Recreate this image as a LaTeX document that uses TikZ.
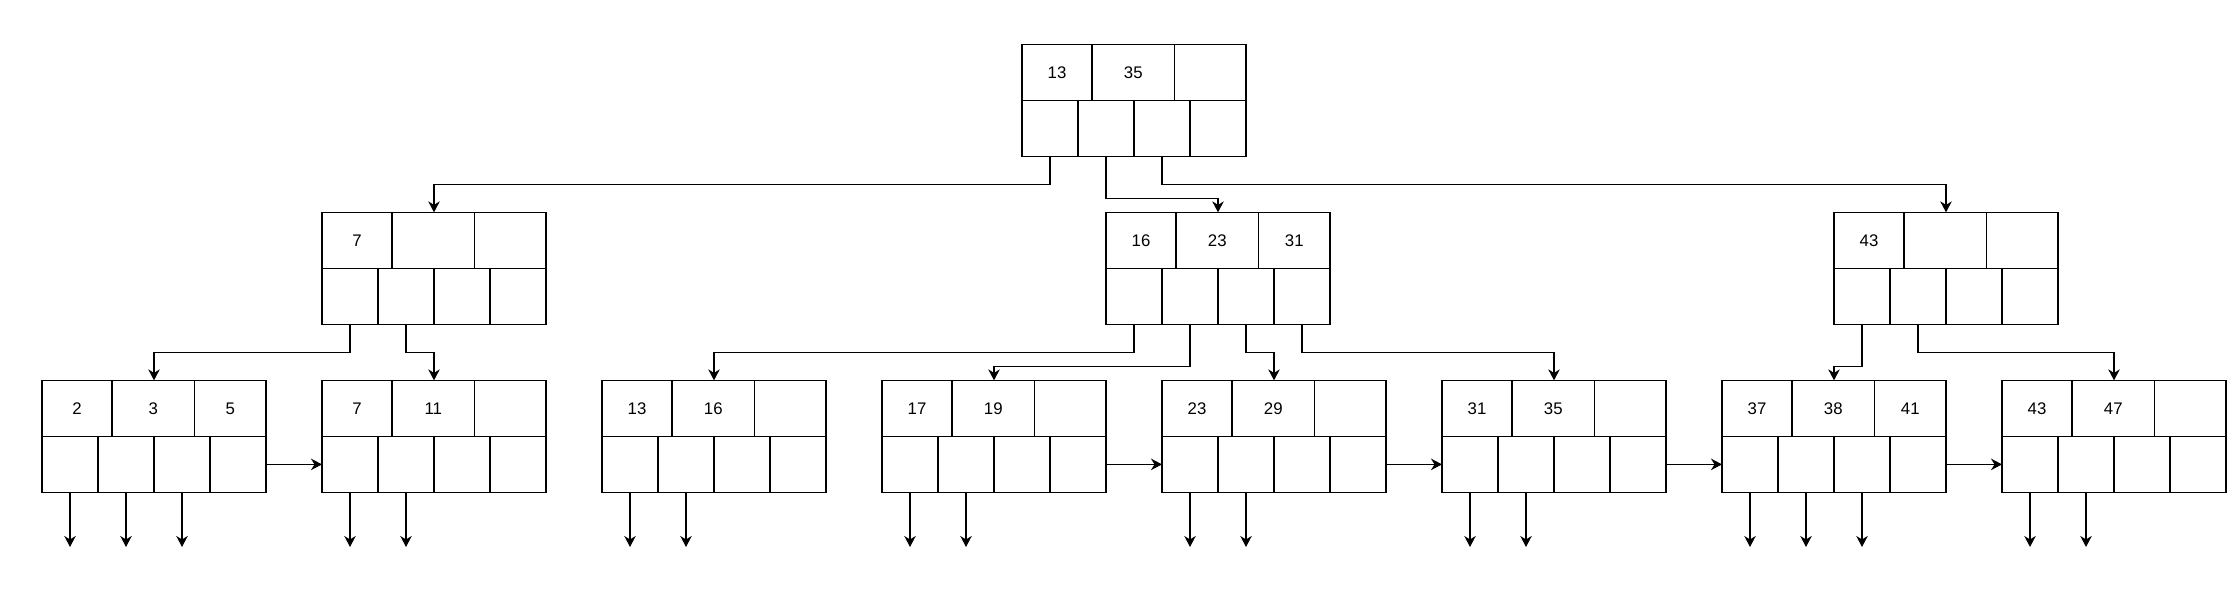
\documentclass[tikz,border=0pt]{standalone}
\usepackage{fontspec}
\setmainfont{Liberation Sans}
\usetikzlibrary{arrows.meta}
\tikzset{
  cell/.style={draw=black, line width=1.4pt, inner sep=0pt, outer sep=0pt,
    minimum height=56pt, anchor=north west, text=black,
    font=\fontsize{16.8}{20}\selectfont},
  arr/.style={draw=black, line width=1.4pt,
    -{Stealth[length=11pt,width=11.5pt,inset=3.5pt]}},
}
% #1 name, #2 x, #3 y (top-left, drawing units), #4-#6 keys
\newcommand\btnode[6]{%
  \node[cell, minimum width=70pt]   (#1-k1) at (#2,#3) {#4};
  \node[cell, minimum width=82.6pt] (#1-k2) at (#2+50,#3) {#5};
  \node[cell, minimum width=71.4pt] (#1-k3) at (#2+109,#3) {#6};
  \node[cell, minimum width=56pt] (#1-p1) at (#2,#3+40) {};
  \node[cell, minimum width=56pt] (#1-p2) at (#2+40,#3+40) {};
  \node[cell, minimum width=56pt] (#1-p3) at (#2+80,#3+40) {};
  \node[cell, minimum width=56pt] (#1-p4) at (#2+120,#3+40) {};
  \coordinate (#1) at (#2+80,#3);
}
\begin{document}
\begin{tikzpicture}[x=1.4pt, y=-1.4pt]
  \fill[white] (0,0) rectangle (1600,432.14);
  \useasboundingbox (0,0) rectangle (1600,432.14);

  \btnode{root}{730}{31.7}{13}{35}{}
  \btnode{la}{230}{151.7}{7}{}{}
  \btnode{lb}{790}{151.7}{16}{23}{31}
  \btnode{lc}{1310}{151.7}{43}{}{}

  \btnode{ma}{30}{271.7}{2}{3}{5}
  \btnode{mb}{230}{271.7}{7}{11}{}
  \btnode{mc}{430}{271.7}{13}{16}{}
  \btnode{md}{630}{271.7}{17}{19}{}
  \btnode{me}{830}{271.7}{23}{29}{}
  \btnode{mf}{1030}{271.7}{31}{35}{}
  \btnode{mg}{1230}{271.7}{37}{38}{41}
  \btnode{mh}{1430}{271.7}{43}{47}{}

  % root to level 2
  \draw[arr] (root-p1.south) -- ++(0,20) -| (la);
  \draw[arr] (root-p2.south) -- ++(0,30) -| (lb);
  \draw[arr] (root-p3.south) -- ++(0,20) -| (lc);

  % level 2 to leaves
  \draw[arr] (la-p1.south) -- ++(0,20) -| (ma);
  \draw[arr] (la-p2.south) -- ++(0,20) -| (mb);
  \draw[arr] (lb-p1.south) -- ++(0,20) -| (mc);
  \draw[arr] (lb-p2.south) -- ++(0,30) -| (md);
  \draw[arr] (lb-p3.south) -- ++(0,20) -| (me);
  \draw[arr] (lb-p4.south) -- ++(0,20) -| (mf);
  \draw[arr] (lc-p1.south) -- ++(0,30) -| (mg);
  \draw[arr] (lc-p2.south) -- ++(0,20) -| (mh);

  % leaf sibling links
  \draw[arr] (ma-p4.east) -- (mb-p1.west);
  \draw[arr] (md-p4.east) -- (me-p1.west);
  \draw[arr] (me-p4.east) -- (mf-p1.west);
  \draw[arr] (mf-p4.east) -- (mg-p1.west);
  \draw[arr] (mg-p4.east) -- (mh-p1.west);

  % record pointers
  \foreach \n/\k in {ma/1,ma/2,ma/3,mb/1,mb/2,mc/1,mc/2,md/1,md/2,
                     me/1,me/2,mf/1,mf/2,mg/1,mg/2,mg/3,mh/1,mh/2}
    \draw[arr] (\n-p\k.south) -- ++(0,39);
\end{tikzpicture}
\end{document}
